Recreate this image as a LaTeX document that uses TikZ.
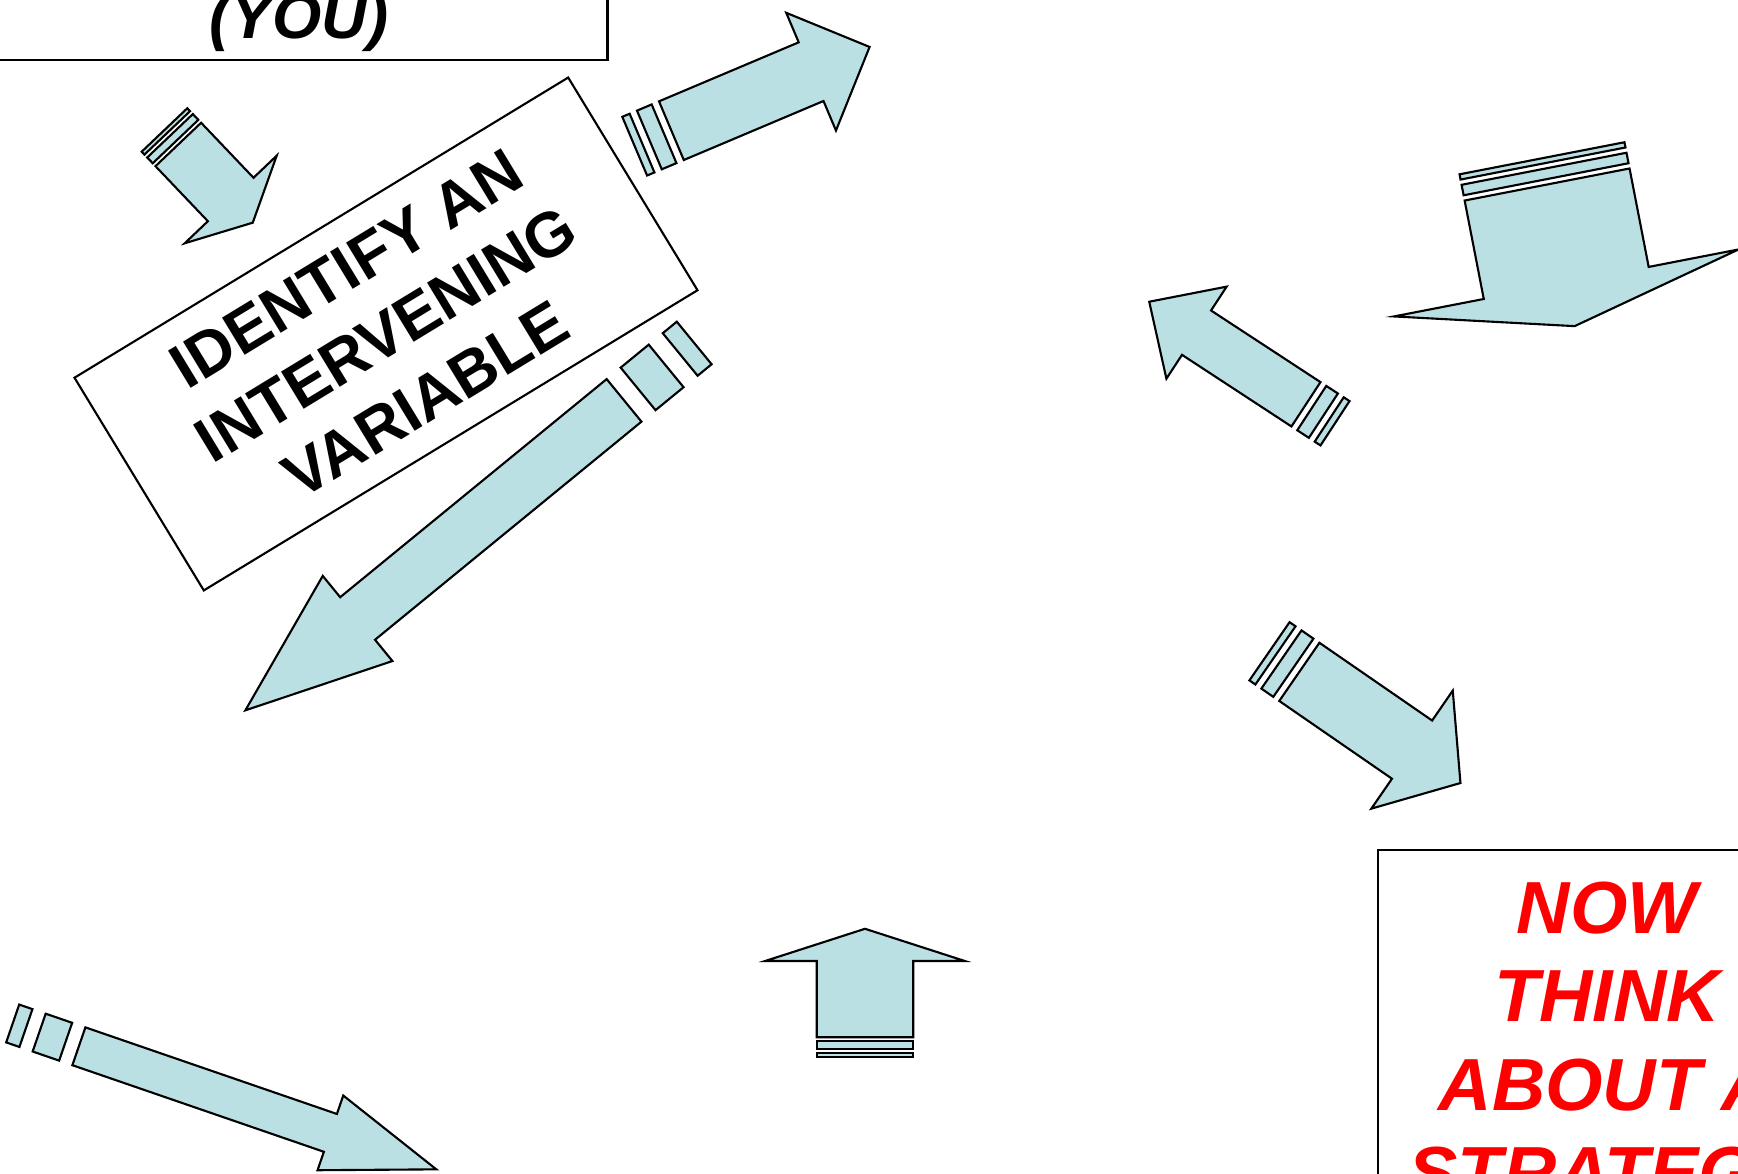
\documentclass[tikz,border=0pt]{standalone}
\usepackage{fontspec}
\setmainfont{Liberation Sans}
\definecolor{arrowblue}{RGB}{187,224,227}
\tikzset{
  arrowpart/.style={draw=black, fill=arrowblue, line width=0.6pt, line join=miter},
  framebox/.style={draw=black, fill=white, line width=0.6pt},
}
\begin{document}
\begin{tikzpicture}[x=0.01cm, y=-0.01cm]
			\useasboundingbox (0,0) rectangle (1738,1174);
			\fill[white] (0,0) rectangle (1738,1174);
			\clip (0,0) rectangle (1738,1174);
			\node[framebox, anchor=south east, minimum width=6.195cm, minimum height=3cm] (you) at (608.5,61) {};
			\node[anchor=base, font=\fontsize{18}{21.6}\selectfont\bfseries\itshape] (youtext) at (299,39) {(YOU)};
			\node[framebox, rotate=31.3, minimum width=5.775cm, minimum height=2.488cm, align=center,
				font=\fontsize{18}{21.8}\selectfont\bfseries] (ident) at (386,334) {IDENTIFY AN\\INTERVENING\\VARIABLE};
			\node[framebox, anchor=north west, minimum width=4.608cm, minimum height=4cm] (now) at (1376.6,849) {};
			\node[anchor=base, align=center, text=red, font=\fontsize{21}{25.2}\selectfont\bfseries\itshape] (nowtext) at (1607,1199) {NOW\\THINK\\ABOUT A\\STRATEGY};
			\foreach \tx/\ty/\rot/\alen/\hwid/\swid/\hlen in {164.5/130/-46.4/128/127/63/32,
				634.7/146.2/22.9/255/127.8/63.7/63.5, 694.2/343/-140.7/580/110/55/145,
				1542/158.3/-79/171/351/168/44, 1335/423.3/146.8/222/110/53/56.5,
				1269.5/651.3/-34.6/232/143.4/70.7/58.8, 12.7/1023.5/-19/448/79/40/112,
				865/1057.4/90/128.6/199.5/96.4/32.2}{
				\begin{scope}[shift={(\tx,\ty)}, rotate=\rot]
					\pgfmathsetmacro\su{\alen/32}
					\draw[arrowpart] (0,-\swid/2) rectangle (\su,\swid/2);
					\draw[arrowpart] (2*\su,-\swid/2) rectangle (4*\su,\swid/2);
					\draw[arrowpart] (5*\su,-\swid/2) -- (\alen-\hlen,-\swid/2) -- (\alen-\hlen,-\hwid/2) -- (\alen,0)
						-- (\alen-\hlen,\hwid/2) -- (\alen-\hlen,\swid/2) -- (5*\su,\swid/2) -- cycle;
				\end{scope}
			}
		\end{tikzpicture}
\end{document}
